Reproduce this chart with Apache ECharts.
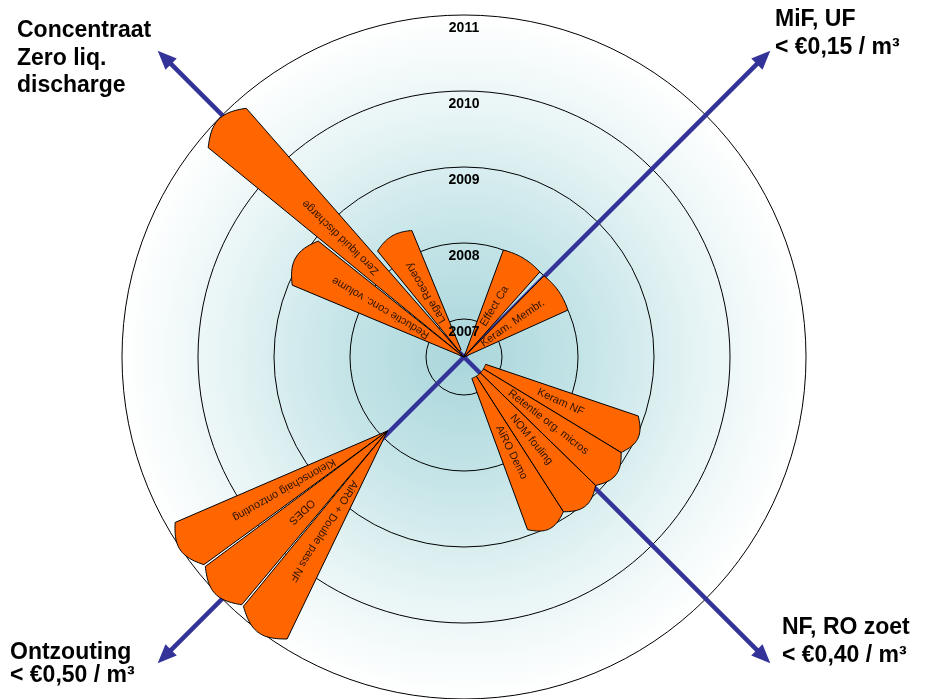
<!DOCTYPE html>
<html>
<head>
<meta charset="utf-8">
<script src="https://cdn.jsdelivr.net/npm/echarts@6/dist/echarts.min.js"></script>
<style>
  html, body { margin: 0; padding: 0; background: #fff; }
  #chart { width: 941px; height: 699px; }
</style>
</head>
<body>
<div id="chart"></div>
<script>
// jaar-ringen
const years = [2007, 2008, 2009, 2010, 2011];

// projecten (wiggen), hoeken in graden tegen de klok in vanaf oost
const projects = ['Zero liquid discharge', 'Reductie conc. volume', 'Lage Recoery',
  'Effect Ca', 'Keram. Membr.',
  'Keram NF', 'Retentie org. micros', 'NOM fouling', 'AiRO Demo',
  'Kleionschaig ontzouting', 'ODES', 'AiRO + Double pass NF'];
const startYear = [2006.5, 2006.5, 2006.6, 2006.5, 2006.5,
  2006.8, 2006.8, 2006.8, 2006.8, 2007.9, 2007.9, 2007.9];
const endYear = [2010.85, 2008.95, 2008.3, 2008.0, 2008.0,
  2008.92, 2008.92, 2008.92, 2008.92, 2010.88, 2010.88, 2010.88];
const angleFrom = [131.2, 141.5, 112.4, 48.3, 24.3,
  328.7, 315.7, 302.7, 290.2, 209.8, 219.0, 228.5];
const angleTo = [140.7, 157.3, 129.2, 69.8, 45.4,
  341.3, 328.7, 315.7, 302.7, 218.6, 228.1, 237.9];
// wiggen die vanuit één punt waaieren (null = vanuit het midden)
const apexAngle = [null, null, null, null, null,
  null, null, null, null, 224, 224, 224];

// pijlen
const arrowAngles = [45, 135, 225, 315];
const arrowEnd = 2012.2;

// hoe bol het uiteinde van elke wig is (fractie van de koorde)
const endBulge = [0.2, 0.18, 0.1, 0.03, 0.03, 0.2, 0.2, 0.2, 0.2, 0.2, 0.2, 0.2];

const chart = echarts.init(document.getElementById('chart'));

function renderWedge(params, api) {
  const cs = params.coordSys;
  const i = params.dataIndex;
  const r0 = api.value(0), r1 = api.value(1);
  const a = api.value(2), b = api.value(3);
  const apex = apexAngle[i];
  const n = 30;
  const c0 = api.coord([r1, a]), c1 = api.coord([r1, b]);
  const chord = Math.hypot(c1[0] - c0[0], c1[1] - c0[1]);
  const bulge = chord * endBulge[i];
  const pts = [];
  for (let k = 0; k <= n; k++) {
    const p = api.coord([r1, a + (b - a) * k / n]);
    const dx = p[0] - cs.cx, dy = p[1] - cs.cy;
    const d = Math.hypot(dx, dy);
    const extra = bulge * Math.sin(Math.PI * k / n);
    pts.push([p[0] + dx / d * extra, p[1] + dy / d * extra]);
  }
  let inner;
  if (apex != null) {
    inner = api.coord([r0, apex]);
    pts.push(inner);
  } else {
    for (let k = n; k >= 0; k--) {
      pts.push(api.coord([r0, a + (b - a) * k / n]));
    }
    inner = api.coord([r0, (a + b) / 2]);
  }
  const outer = api.coord([r1, (a + b) / 2]);
  const mx = inner[0] + (outer[0] - inner[0]) * 0.52;
  const my = inner[1] + (outer[1] - inner[1]) * 0.52;
  const rot = Math.atan2(-(outer[1] - inner[1]), outer[0] - inner[0]);
  return {
    type: 'group',
    children: [
      {
        type: 'polygon',
        shape: { points: pts },
        style: { fill: '#ff6600', stroke: '#000', lineWidth: 1 }
      },
      {
        type: 'text',
        x: mx, y: my, rotation: rot,
        style: {
          text: projects[i],
          fill: '#2b1400',
          font: '11px Arial, "Liberation Sans", sans-serif',
          align: 'center',
          verticalAlign: 'middle'
        }
      }
    ]
  };
}

function renderArrow(params, api) {
  const cs = params.coordSys;
  const tip = api.coord([api.value(0), api.value(1)]);
  const dx = tip[0] - cs.cx, dy = tip[1] - cs.cy;
  const len = Math.sqrt(dx * dx + dy * dy);
  const ux = dx / len, uy = dy / len;
  const bx = tip[0] - ux * 19, by = tip[1] - uy * 19;
  return {
    type: 'group',
    children: [
      {
        type: 'line',
        shape: { x1: cs.cx, y1: cs.cy, x2: bx + ux * 2, y2: by + uy * 2 },
        style: { stroke: '#333399', lineWidth: 4.5 }
      },
      {
        type: 'polygon',
        shape: { points: [tip, [bx - uy * 8, by + ux * 8], [bx + uy * 8, by - ux * 8]] },
        style: { fill: '#333399' }
      }
    ]
  };
}

function renderYear(params, api) {
  // label net binnen de ring, bovenaan
  const p = api.coord([api.value(0) - 0.17, 90]);
  return {
    type: 'text',
    x: p[0], y: p[1],
    style: {
      text: String(years[params.dataIndex]),
      fill: '#000',
      font: 'bold 14px Arial, "Liberation Sans", sans-serif',
      align: 'center',
      verticalAlign: 'middle'
    }
  };
}

const cornerFont = 'bold 23px Arial, "Liberation Sans", sans-serif';

const option = {
  animation: false,
  polar: { center: [464, 357], radius: [38, 342] },
  angleAxis: {
    type: 'value', min: 0, max: 360, startAngle: 0, clockwise: false, show: false
  },
  radiusAxis: {
    type: 'value', min: 2007, max: 2011, interval: 1,
    axisLine: { show: false },
    axisTick: { show: false },
    axisLabel: { show: false },
    splitLine: { show: true, lineStyle: { color: '#000', width: 1 } }
  },
  graphic: [
    {
      type: 'circle',
      z: -1,
      shape: { cx: 464, cy: 357, r: 342 },
      style: {
        fill: new echarts.graphic.RadialGradient(0.5, 0.5, 0.5, [
          { offset: 0, color: '#a9d6db' },
          { offset: 0.35, color: '#c4e4e7' },
          { offset: 0.7, color: '#e7f4f5' },
          { offset: 1, color: '#ffffff' }
        ])
      }
    },
    {
      type: 'text', left: 17, top: 17,
      style: { text: 'Concentraat\nZero liq.\ndischarge', font: cornerFont, fill: '#000', lineHeight: 27.5 }
    },
    {
      type: 'text', left: 775, top: 6,
      style: { text: 'MiF, UF\n< €0,15 / m³', font: cornerFont, fill: '#000', lineHeight: 28 }
    },
    {
      type: 'text', left: 10, top: 641,
      style: { text: 'Ontzouting\n< €0,50 / m³', font: cornerFont, fill: '#000', lineHeight: 23 }
    },
    {
      type: 'text', left: 782, top: 614,
      style: { text: 'NF, RO zoet\n< €0,40 / m³', font: cornerFont, fill: '#000', lineHeight: 28 }
    }
  ],
  series: [
    {
      type: 'custom',
      coordinateSystem: 'polar',
      z: 3,
      renderItem: renderArrow,
      data: arrowAngles.map(a => [arrowEnd, a]),
      silent: true
    },
    {
      type: 'custom',
      coordinateSystem: 'polar',
      z: 4,
      renderItem: renderWedge,
      data: projects.map((p, i) => [startYear[i], endYear[i], angleFrom[i], angleTo[i]]),
      silent: true
    },
    {
      type: 'custom',
      coordinateSystem: 'polar',
      z: 5,
      renderItem: renderYear,
      data: years.map(y => [y, 90]),
      silent: true
    }
  ]
};

chart.setOption(option);
</script>
</body>
</html>
